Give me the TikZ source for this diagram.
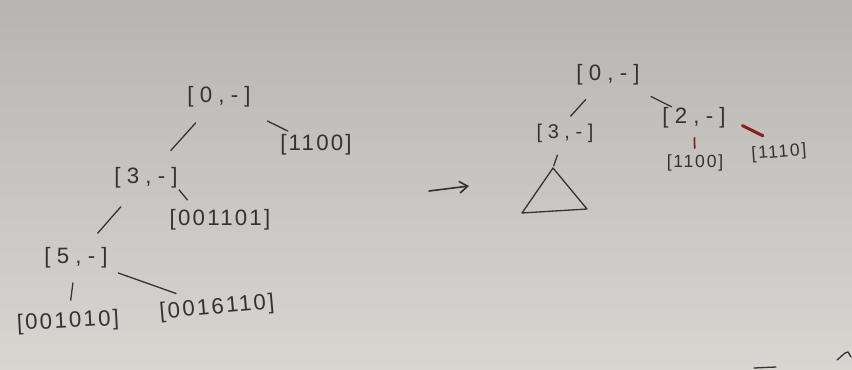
\documentclass[tikz,border=0pt]{standalone}
\usepackage{fontspec}
\setmainfont{Liberation Sans}
\usetikzlibrary{calc,arrows.meta}
\definecolor{ink}{HTML}{333331}
\definecolor{redink}{HTML}{8E1E1C}
\definecolor{paperTop}{HTML}{B6B5B1}
\definecolor{paperBot}{HTML}{D8D6D1}
\begin{document}
\begin{tikzpicture}[x=0.03cm,y=-0.03cm,
  lbl/.style={font={\fontsize{19}{22}\selectfont\addfontfeatures{LetterSpace=10}}, text=ink, inner sep=1pt},
  pairlbl/.style={font={\fontsize{19}{22}\selectfont\addfontfeatures{LetterSpace=28}}, text=ink, inner sep=1pt},
  smalllbl/.style={font={\fontsize{15}{18}\selectfont\addfontfeatures{LetterSpace=10}}, text=ink, inner sep=1pt},
  edge/.style={draw=ink, line width=1.1pt, line cap=round},
  redge/.style={draw=redink, line width=1.5pt, line cap=round},
  thickredge/.style={draw=redink, line width=2.6pt, line cap=round}]
\shade[top color=paperTop, bottom color=paperBot] (0,0) rectangle (852,370);
\useasboundingbox (0,0) rectangle (852,370);

% left tree
\node[pairlbl] (L0) at (219,97) {[0,-]};
\node[lbl] (L1100) at (316,145) {[1100]};
\node[pairlbl] (L3) at (146,178) {[3,-]};
\node[lbl] (L001101) at (220,220) {[001101]};
\node[pairlbl] (L5) at (76,258) {[5,-]};
\node[lbl, rotate=3] (L001010) at (68,322) {[001010]};
\node[lbl, rotate=5] (L0016110) at (217,308) {[0016110]};
\coordinate (L001101top) at ($(L001101.north)!0.5!(L001101.north west)$);

\draw[edge] ($(L0)!0.32!(L3)$) -- ($(L0)!0.66!(L3)$);
\draw[edge] ($(L0)!0.50!(L1100)$) -- ($(L0)!0.71!(L1100)$);
\draw[edge] ($(L3)!0.36!(L5)$) -- ($(L3)!0.69!(L5)$);
\draw[edge] ($(L3.south east)!0.0!(L001101top)$) -- ($(L3.south east)!0.55!(L001101top)$);
\draw[edge] ($(L5)!0.39!(L001010)$) -- ($(L5)!0.66!(L001010)$);
\draw[edge] ($(L5)!0.30!(L0016110)$) -- ($(L5)!0.71!(L0016110)$);

% arrow
\coordinate (A1) at (429,191);
\coordinate (A2) at (469,186);
\draw[edge, line width=1.4pt, -{Straight Barb[length=7pt,width=10pt]}] (A1) -- (A2);

% right tree
\node[pairlbl] (R0) at (608,75) {[0,-]};
\node[pairlbl, font={\fontsize{17}{20}\selectfont\addfontfeatures{LetterSpace=28}}] (R3) at (565,133) {[3,-]};
\node[pairlbl] (R2) at (694,118) {[2,-]};
\node[smalllbl] (R1100) at (695,163) {[1100]};
\node[smalllbl, rotate=4] (R1110) at (779,153) {[1110]};

\coordinate (T) at (553,168);
\coordinate (TL) at (522,213);
\coordinate (TR) at (587,209);
\draw[edge, line join=round] (T) -- (TL) -- (TR) -- cycle;

\draw[edge] ($(R0)!0.52!(R3.north)$) -- ($(R0)!0.87!(R3.north)$);
\draw[edge] ($(R0)!0.50!(R2)$) -- ($(R0)!0.74!(R2)$);
\draw[edge] ($(R3)!0.63!(T)$) -- ($(R3)!0.94!(T)$);
\draw[redge] ($(R2)!0.44!(R1100)$) -- ($(R2)!0.67!(R1100)$);
\draw[thickredge] ($(R2.east)!0.3!(R1110.north)$) -- ($(R2.east)!0.7!(R1110.north)$);

% stray marks at the lower right edge
\draw[edge] (837,360) .. controls (842,356) and (845,352) .. (848,352) -- (851,357);
\draw[edge] (754,368) -- (776,367);
\end{tikzpicture}
\end{document}
